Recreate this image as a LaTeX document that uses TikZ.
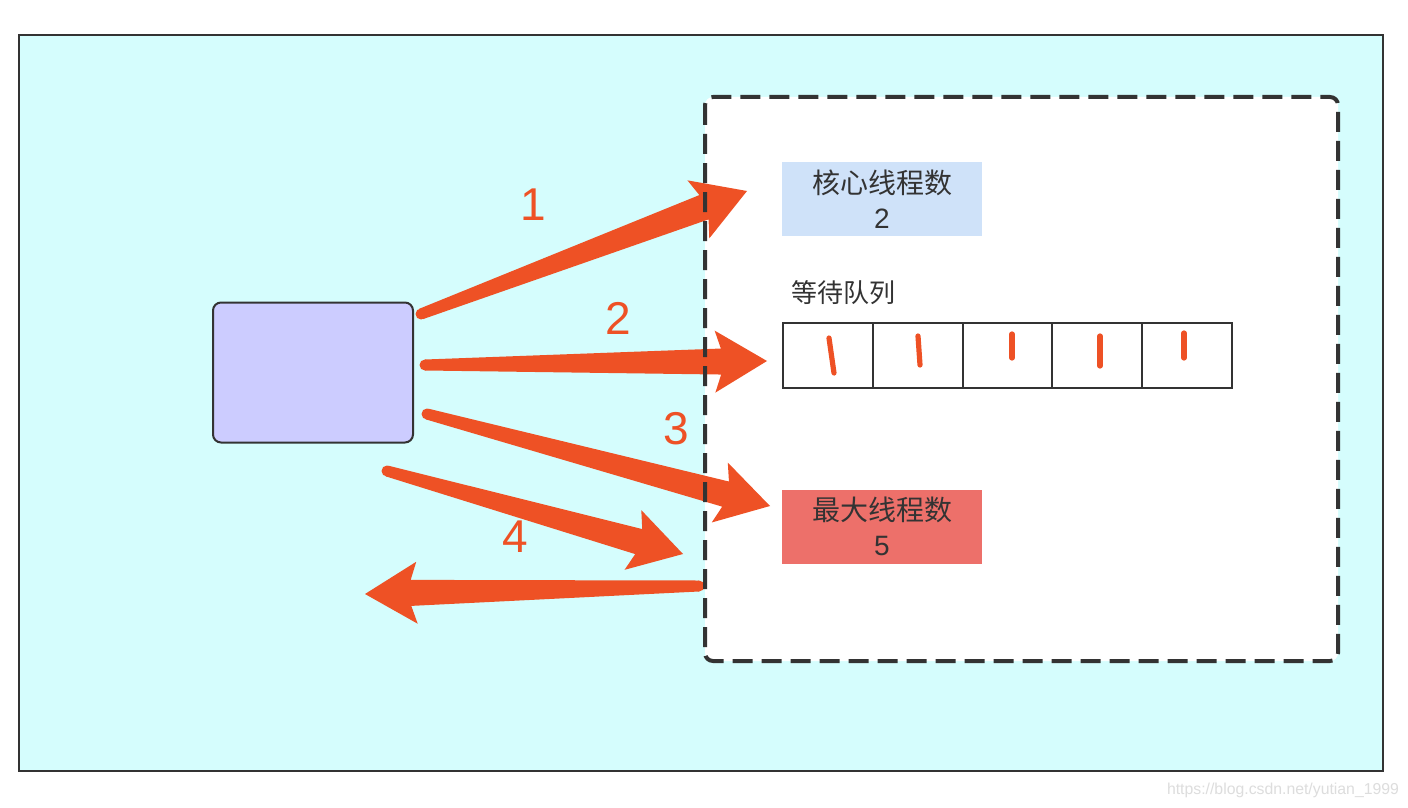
\documentclass[tikz,border=0pt]{standalone}
\usepackage{fontspec}
\setmainfont{Liberation Sans}
\newfontfamily\cjk{Noto Sans CJK SC}
\usepackage{tikz}
\usetikzlibrary{calc,positioning}
\definecolor{shellcyan}{RGB}{213,253,253}
\definecolor{poolpurple}{RGB}{204,204,255}
\definecolor{coreblue}{RGB}{207,226,249}
\definecolor{maxred}{RGB}{237,112,106}
\definecolor{arrowred}{RGB}{238,81,37}
\definecolor{inkgray}{RGB}{51,51,51}
\definecolor{markgray}{RGB}{221,221,221}

\tikzset{
  cntbox/.style={minimum width=100pt,minimum height=37pt,inner sep=0pt,align=center,
    text=inkgray,font=\cjk\fontsize{14}{17.5}\selectfont},
  qcell/.style={draw=inkgray,line width=1pt,minimum width=44.9pt,minimum height=32.5pt,
    inner sep=0pt,outer sep=0pt},
  qmark/.style={arrowred,line width=2.6pt,line cap=round},
  steplabel/.style={text=arrowred,font=\fontsize{23}{23}\selectfont,inner sep=0pt},
}

% 粗箭头：起点细、靠近箭头处粗
\newcommand{\fatarrow}[2]{%
  \path (#1) coordinate (fa-s) (#2) coordinate (fa-t);
  \path ($(fa-t)!23pt!(fa-s)$) coordinate (fa-b) ($(fa-t)!26pt!(fa-s)$) coordinate (fa-w);
  \fill[arrowred] ($(fa-s)!2.75pt!90:(fa-t)$) -- ($(fa-b)!6.5pt!90:(fa-t)$)
    -- ($(fa-w)!15.5pt!90:(fa-t)$) -- (fa-t) -- ($(fa-w)!15.5pt!-90:(fa-t)$)
    -- ($(fa-b)!6.5pt!-90:(fa-t)$) -- ($(fa-s)!2.75pt!-90:(fa-t)$) -- cycle;
  \fill[arrowred] (fa-s) circle (2.75pt);}

\begin{document}
\begin{tikzpicture}[x=0.5pt,y=-0.5pt]
  \useasboundingbox (0,0) rectangle (1408,808);
  \fill[white] (0,0) rectangle (1408,808);
  % 外框
  \draw[draw=inkgray,fill=shellcyan,line width=1pt] (19,35) rectangle (1383,771);
  % 线程池
  \fill[white,rounded corners=4pt] (705,97) rectangle (1338,661);
  \node[cntbox,fill=coreblue] (core) at (882,199) {核心线程数\\{\rmfamily 2}};
  \node[anchor=west,inner sep=0pt,text=inkgray,font=\cjk\fontsize{13}{13}\selectfont]
    (qtitle) at (791,293) {等待队列};
  \node[qcell] (q1) at (827.9,355.5) {};
  \foreach \i [remember=\i as \j (initially 1)] in {2,...,5}
    \node[qcell,right=0pt of q\j] (q\i) {};
  \foreach \xa/\ya/\xb/\yb in {829/338/834/373,918/336/920/365,1012/334/1012/358,
      1100/336/1100/366,1184/333/1184/358}
    \draw[qmark] (\xa,\ya) -- (\xb,\yb);
  \node[cntbox,fill=maxred] (maxc) at (882,526.5) {最大线程数\\{\rmfamily 5}};
  % 任务
  \node[draw=inkgray,fill=poolpurple,line width=1pt,rounded corners=4pt,
    minimum width=100pt,minimum height=70pt] (task) at (313,372.5) {};
  % 箭头
  \coordinate (a1s) at (421,314);  \coordinate (a1t) at (747,191);
  \coordinate (a2s) at (425,365);  \coordinate (a2t) at (767,361);
  \coordinate (a3s) at (427,414);  \coordinate (a3t) at (770,506);
  \coordinate (a4s) at (387,471);  \coordinate (a4t) at (683,554);
  \coordinate (a5s) at (699,586);  \coordinate (a5t) at (365,594);
  \fatarrow{a1s}{a1t}
  \fatarrow{a2s}{a2t}
  \fatarrow{a3s}{a3t}
  \fatarrow{a4s}{a4t}
  \fatarrow{a5s}{a5t}
  \draw[inkgray,line width=2pt,dash pattern=on 10pt off 4.5pt,rounded corners=4pt]
    (705,97) rectangle (1338,661);
  \node[steplabel] (n1) at (533,205) {1};
  \node[steplabel] (n2) at (618,318) {2};
  \node[steplabel] (n3) at (676,429) {3};
  \node[steplabel] (n4) at (515,537) {4};
  \node[text=markgray,font=\fontsize{7.9}{8}\selectfont,inner sep=0pt] (wm) at (1283,790)
    {https://blog.csdn.net/yutian\_1999};
\end{tikzpicture}
\end{document}
